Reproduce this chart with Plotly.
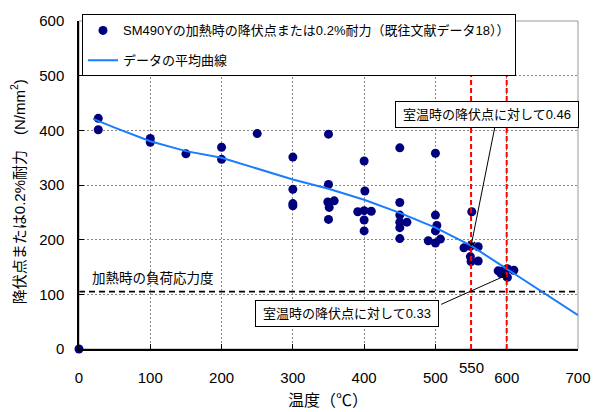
import plotly.graph_objects as go

# Measured yield point / 0.2% proof stress of SM490Y at elevated temperature
temp_c = [0, 27, 27, 100, 100, 150, 200, 200, 250,
          300, 300, 300, 300,
          350, 350, 349, 351, 358, 350,
          400, 401, 391, 400, 410, 400, 400,
          450, 450, 450, 450, 450, 460, 450,
          500, 500, 502, 500, 490, 500, 507,
          551, 540, 549, 560, 549, 550, 560,
          588, 592, 596, 601, 610, 598, 601]
strength = [0, 422, 401, 385, 378, 357, 369, 347, 394,
            351, 292, 266, 262,
            393, 301, 269, 259, 271, 237,
            344, 289, 251, 253, 252, 236, 216,
            368, 268, 245, 232, 222, 232, 202,
            358, 245, 226, 216, 198, 194, 201,
            251, 185, 188, 187, 169, 160, 161,
            143, 138, 144, 147, 144, 136, 131]

# Averaged curve through the data
curve_temp = [20, 50, 100, 150, 200, 250, 300, 350, 400, 450, 500, 550, 600, 650, 700]
curve_strength = [421, 405, 380, 362, 350, 330, 310, 293, 273, 249, 222, 189, 147, 105, 62]

load_stress = 105            # stress under load during heating
room_temp_yield = 410        # room-temperature yield point
ratio_temps = [550, 600]
ratios = [0.46, 0.33]

x_ticks = [0, 100, 200, 300, 400, 500, 600, 700]
y_ticks = [0, 100, 200, 300, 400, 500, 600]

FONT = "Liberation Sans, Arial, Noto Sans CJK JP"
NAVY = "#00007f"
BLUE = "#1a7cff"

fig = go.Figure()

fig.add_trace(go.Scatter(
    x=temp_c, y=strength, mode="markers",
    name="SM490Yの加熱時の降伏点または0.2%耐力（既往文献データ18））",
    marker=dict(color=NAVY, size=9, line=dict(width=0)),
    legendgroup="a", cliponaxis=False,
))
fig.add_trace(go.Scatter(
    x=curve_temp, y=curve_strength, mode="lines",
    name="データの平均曲線",
    line=dict(color=BLUE, width=2),
    legendgroup="b",
))

# Load stress level
fig.add_hline(y=load_stress, line=dict(color="black", width=1.6, dash="6px,4px"), layer="below")

# Reference temperatures
for t in ratio_temps:
    fig.add_vline(x=t, line=dict(color="#ff0000", width=2, dash="5px,3px"))

# Plot frame (top/right)
fig.add_shape(type="rect", xref="paper", yref="paper", x0=0, y0=0, x1=1, y1=1,
              line=dict(color="#999999", width=1), layer="below")

fig.add_annotation(x=0, y=load_stress, xref="x", yref="y", xshift=11, yshift=13,
                   text="加熱時の負荷応力度", showarrow=False, xanchor="left", yanchor="middle",
                   font=dict(family=FONT, size=13.5, color="black"))

# Ratio callouts: arrow + boxed label
arrow_tails = [(24, -120), (-67, 30)]
box_pos = [(573, 429.6), (376, 64.3)]
for t, r, (ax, ay), (bx, by) in zip(ratio_temps, ratios, arrow_tails, box_pos):
    fig.add_annotation(x=t, y=r * room_temp_yield, xref="x", yref="y",
                       ax=ax, ay=ay, axref="pixel", ayref="pixel",
                       text="", showarrow=True, arrowhead=4, arrowsize=1.3,
                       arrowwidth=1, arrowcolor="black", standoff=0)
    fig.add_annotation(x=bx, y=by, xref="x", yref="y",
                       text=f"室温時の降伏点に対して{r:.2f}", showarrow=False,
                       xanchor="center", yanchor="middle",
                       bgcolor="white", bordercolor="black", borderwidth=1, borderpad=4,
                       width=174, height=17,
                       font=dict(family=FONT, size=13, color="black"))

fig.add_annotation(x=550, y=-0.057, xref="x", yref="paper", text="550", showarrow=False,
                   xanchor="center", yanchor="middle", font=dict(family=FONT, size=15, color="black"))

fig.add_annotation(x=0.498, y=-0.157, xref="paper", yref="paper", text="温度（℃）",
                   showarrow=False, xanchor="center", yanchor="middle",
                   font=dict(family=FONT, size=16, color="black"))
fig.add_annotation(x=-0.1216, y=0.479, xref="paper", yref="paper",
                   text="降伏点または0.2%耐力　(N/mm<sup>2</sup>)", textangle=-90,
                   showarrow=False, xanchor="center", yanchor="middle",
                   font=dict(family=FONT, size=15, color="black"))

fig.update_layout(
    width=603, height=412,
    margin=dict(l=79, r=14, t=17, b=63),
    paper_bgcolor="white", plot_bgcolor="white",
    font=dict(family=FONT, color="black"),
    showlegend=True,
    legend=dict(x=0.006, y=1.02, xanchor="left", yanchor="top",
                bgcolor="white", bordercolor="black", borderwidth=1,
                font=dict(family=FONT, size=13, color="black"),
                traceorder="grouped", tracegroupgap=10),
    xaxis=dict(range=[0, 700], tickvals=x_ticks, ticks="inside", ticklen=5,
               tickcolor="black", showline=True, linecolor="black", linewidth=1.5,
               showgrid=True, gridcolor="#888888", griddash="2px,2px", gridwidth=1,
               zeroline=False, tickfont=dict(family=FONT, size=15, color="black"),
               ticklabelstandoff=14),
    yaxis=dict(range=[0, 600], tickvals=y_ticks, ticks="inside", ticklen=5,
               tickcolor="black", showline=True, linecolor="black", linewidth=1.5,
               showgrid=True, gridcolor="#888888", griddash="2px,2px", gridwidth=1,
               zeroline=False, tickfont=dict(family=FONT, size=15, color="black"),
               ticklabelstandoff=10),
)

fig.write_html("out.html")
